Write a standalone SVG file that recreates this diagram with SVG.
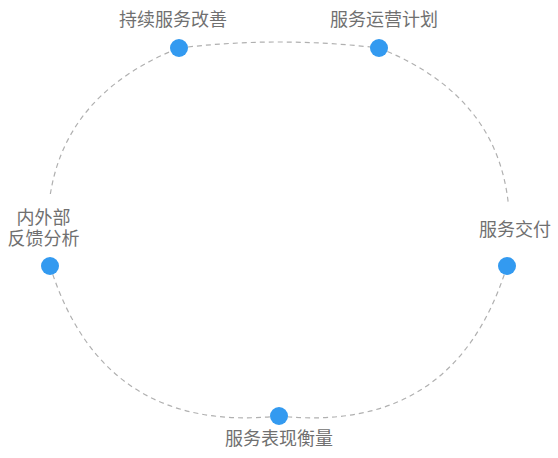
<svg xmlns="http://www.w3.org/2000/svg" width="558" height="458" viewBox="0 0 558 458">
  <style>
    .edge { fill: none; stroke: #b0b0b0; stroke-width: 1.2; stroke-dasharray: 5 4; }
    .node { fill: #339af0; }
    .lbl { font-family: "Noto Sans CJK SC", "Noto Sans", sans-serif; font-size: 18px; fill: #707070; text-anchor: middle; }
    .bg { fill: #ffffff; }
  </style>
  <rect width="558" height="458" fill="#ffffff"/>
  <g id="connectors">
    <path class="edge" d="M179,48 Q279,36 379,48"/>
    <path class="edge" d="M379,48 Q528,107 507,266"/>
    <path class="edge" d="M507,266 Q455,434.6 279,416"/>
    <path class="edge" d="M279,416 Q103,434.6 50,266"/>
    <path class="edge" d="M50,266 Q30,107 179,48"/>
  </g>
  <g id="node-improve">
    <circle class="node" cx="179" cy="48" r="9"/>
    <text class="lbl" x="173" y="25.5">持续服务改善</text>
  </g>
  <g id="node-plan">
    <circle class="node" cx="379" cy="48" r="9"/>
    <text class="lbl" x="384" y="25.5">服务运营计划</text>
  </g>
  <g id="node-deliver">
    <rect class="bg" x="478" y="205" width="74" height="52"/>
    <circle class="node" cx="507" cy="266" r="9"/>
    <text class="lbl" x="515" y="235.5">服务交付</text>
  </g>
  <g id="node-measure">
    <circle class="node" cx="279" cy="416" r="9"/>
    <text class="lbl" x="279" y="444.5">服务表现衡量</text>
  </g>
  <g id="node-feedback">
    <rect class="bg" x="4" y="194" width="80" height="63"/>
    <circle class="node" cx="50" cy="266" r="9"/>
    <text class="lbl" x="43.5" y="224"><tspan x="43.5">内外部</tspan><tspan x="43.5" dy="20.5">反馈分析</tspan></text>
  </g>
</svg>
